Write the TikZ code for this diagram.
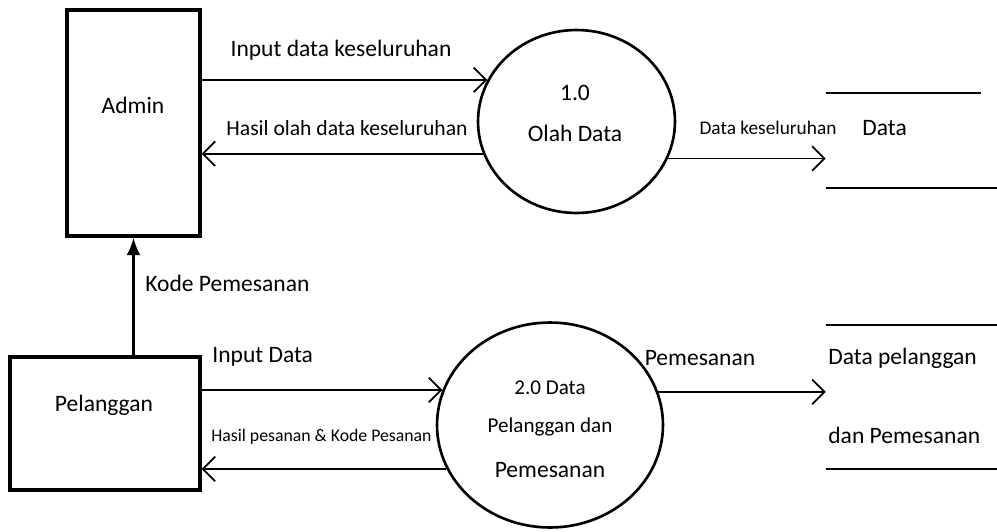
\documentclass[tikz,border=0pt]{standalone}
\usepackage{fontspec}
\setmainfont{Carlito}
\usepackage{tikz}
\usetikzlibrary{shapes.geometric, arrows.meta, positioning}

\begin{document}
\begin{tikzpicture}[
    x=0.02cm, y=-0.02cm,
    extbox/.style = {rectangle, draw, line width=1.9pt, inner sep=0pt},
    proc/.style = {ellipse, draw, line width=1.5pt, inner sep=0pt},
    store/.style = {rectangle, inner sep=0pt, minimum width=3.42cm},
    flow/.style = {draw, -{Straight Barb[length=7pt, width=14pt]}, line width=1pt},
    kode/.style = {draw, -{Latex[length=10pt, width=8pt]}, line width=1.6pt},
    lbl/.style = {font=\fontsize{13.4}{16}\selectfont, inner sep=0pt},
    lblsmall/.style = {font=\fontsize{10.1}{13}\selectfont, inner sep=0pt}
]
\useasboundingbox (0,0) rectangle (997,531);

% External entities
\node (admin) [extbox, minimum width=2.66cm, minimum height=4.52cm] at (133.5, 123) {};
\node (adminTxt) [lbl] at (133, 105) {Admin};
\node (pelanggan) [extbox, minimum width=3.8cm, minimum height=2.66cm] at (105, 423.5) {};
\node (pelangganTxt) [lbl] at (104, 405) {Pelanggan};

% Processes
\node (olah) [proc, minimum width=3.94cm, minimum height=3.66cm] at (576.5, 121.5) {};
\node (olahNo) [lbl] at (575, 93) {1.0};
\node (olahTxt) [lbl] at (575, 133) {Olah Data};
\node (pesan) [proc, minimum width=4.52cm, minimum height=4.1cm] at (550, 425) {};
\node (pesanTxt1) [lbl, font=\fontsize{12}{14}\selectfont] at (550, 388) {2.0 Data};
\node (pesanTxt2) [lbl, font=\fontsize{12}{14}\selectfont] at (550, 427) {Pelanggan dan};
\node (pesanTxt3) [lbl] at (550, 470) {Pemesanan};

% Data stores
\node (store1) [store, minimum height=1.9cm] at (911.5, 140.5) {};
\draw [line width=1.1pt] (store1.north west) -- ([xshift=-0.32cm]store1.north east);
\draw [line width=1.1pt] (store1.south west) -- (store1.south east);
\node (store1Txt) [lbl, anchor=west] at (862, 128) {Data};
\node (store2) [store, minimum height=2.88cm] at (911.5, 397) {};
\draw [line width=1.1pt] (store2.north west) -- (store2.north east);
\draw [line width=1.1pt] (store2.south west) -- (store2.south east);
\node (store2Txt1) [lbl, anchor=west] at (828, 358) {Data pelanggan};
\node (store2Txt2) [lbl, anchor=west] at (828, 435) {dan Pemesanan};

% Flows of process 1.0
\draw [flow] (admin.east |- olah.155) -- (olah.155);
\node (f1) [lbl] at (341, 50) {Input data keseluruhan};
\draw [flow] (olah.199) -- (admin.east |- olah.199);
\node (f2) [lbl, font=\fontsize{12.3}{15}\selectfont] at (347, 128) {Hasil olah data keseluruhan};
\draw [flow] (olah.-22) -- (store1.west |- olah.-22);
\node (f3) [lblsmall, font=\fontsize{11}{13}\selectfont] at (768, 128) {Data keseluruhan};

% Pelanggan to Admin
\draw [kode] (admin.south |- pelanggan.north) -- (admin.south);
\node (f4) [lbl, anchor=west] at (145, 283) {Kode Pemesanan};

% Flows of process 2.0
\draw [flow] (pelanggan.east |- pesan.162) -- (pesan.162);
\node (f5) [lbl, anchor=west] at (212, 357) {Input Data};
\draw [flow] (pesan.203) -- (pelanggan.east |- pesan.203);
\node (f6) [lblsmall, anchor=west] at (211, 437) {Hasil pesanan \& Kode Pesanan};
\draw [flow] (pesan.17) -- (store2.west |- pesan.17);
\node (f7) [lbl] at (700, 358) {Pemesanan};

\end{tikzpicture}
\end{document}
